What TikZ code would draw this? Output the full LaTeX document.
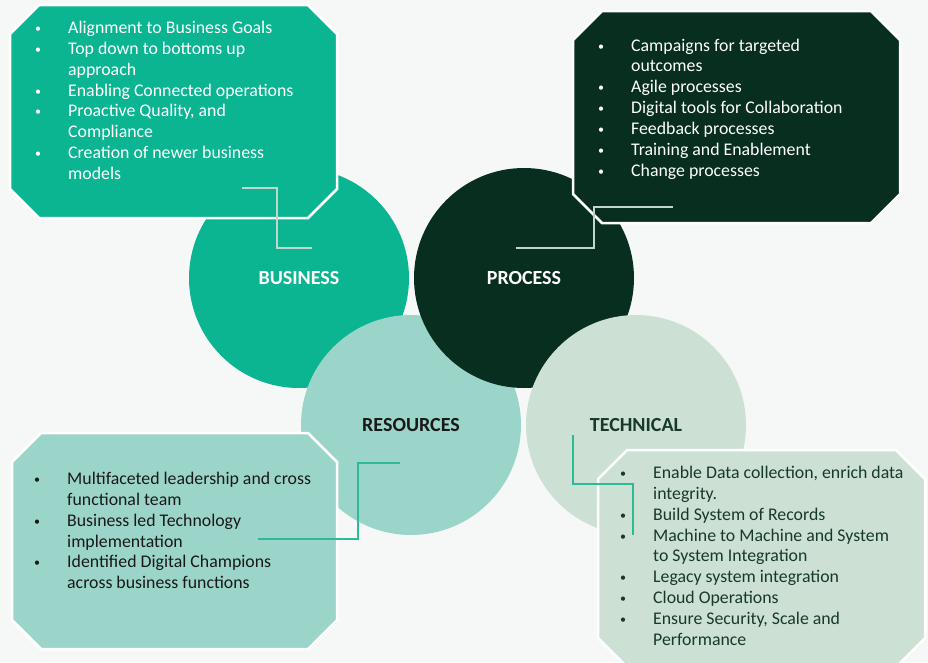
\documentclass[tikz,border=0pt]{standalone}
\usepackage{fontspec}
\setmainfont{Carlito}

\definecolor{bggray}{HTML}{F6F8F7}
\definecolor{bizgreen}{HTML}{0BB592}
\definecolor{procgreen}{HTML}{072E1F}
\definecolor{resgreen}{HTML}{9BD5C9}
\definecolor{techgreen}{HTML}{CCE0D4}
\definecolor{paleline}{HTML}{C3D6CE}
\definecolor{tealline}{HTML}{2DBA96}
\definecolor{techtext}{HTML}{17392B}

% small bullet hanging to the left of the line
\newcommand{\bul}{\llap{\raisebox{1pt}{\fontsize{12}{12}\selectfont\textbullet}\hspace{27pt}}}
% octagon round a card node, #1 = node, #2 = corner cut
\newcommand{\cardpath}[2]{([xshift=#2]#1.north west) -- ([xshift=-#2]#1.north east)
  -- ([yshift=-#2]#1.north east) -- ([yshift=#2]#1.south east)
  -- ([xshift=-#2]#1.south east) -- ([xshift=#2]#1.south west)
  -- ([yshift=#2]#1.south west) -- ([yshift=-#2]#1.north west) -- cycle}

\begin{document}
\begin{tikzpicture}[x=1pt,y=-1pt,
  circ/.style={circle, minimum size=220pt, inner sep=0pt, font=\fontsize{20}{24}\selectfont\bfseries},
  card/.style={rectangle, inner sep=0pt, outer sep=0pt},
  cardline/.style={draw=white, line width=2.5pt},
  items/.style={anchor=north west, inner sep=0pt, align=left, font=\fontsize{17.8}{20.85}\selectfont},
  link/.style={line width=1.2pt}]
\fill[bggray] (0,0) rectangle (928,662);
\useasboundingbox (0,0) rectangle (928,662);

% the four circles
\node[circ, fill=bizgreen, text=white] (business) at (299,278) {BUSINESS};
\node[circ, fill=resgreen, text=black!90] (resources) at (411,425) {RESOURCES};
\node[circ, fill=procgreen, text=white] (process) at (524,278) {PROCESS};
\node[circ, fill=techgreen, text=techtext] (technical) at (636,425) {TECHNICAL};

% cards
\node[card, minimum width=327pt, minimum height=213pt] (bizcard) at (173.5,111.5) {};
\node[card, minimum width=327pt, minimum height=212pt] (proccard) at (736.5,117) {};
\node[card, minimum width=325pt, minimum height=216pt] (rescard) at (174.5,541) {};
\node[card, minimum width=327pt, minimum height=217pt] (techcard) at (761.5,558.5) {};
\filldraw[cardline, fill=bizgreen] \cardpath{bizcard}{29pt};
\filldraw[cardline, fill=procgreen] \cardpath{proccard}{29pt};
\filldraw[cardline, fill=resgreen] \cardpath{rescard}{29pt};
\filldraw[cardline, fill=techgreen] \cardpath{techcard}{29pt};

% card texts
\node[items, text=white] (biztext) at (68,21) {%
\bul Alignment to Business Goals\\
\bul Top down to bottoms up\\
approach\\
\bul Enabling Connected operations\\
\bul Proactive Quality, and\\
Compliance\\
\bul Creation of newer business\\
models};
\node[items, text=white] (proctext) at (631,38.5) {%
\bul Campaigns for targeted\\
outcomes\\
\bul Agile processes\\
\bul Digital tools for Collaboration\\
\bul Feedback processes\\
\bul Training and Enablement\\
\bul Change processes};
\node[items, text=black!90] (restext) at (67,472) {%
\bul Multifaceted leadership and cross\\
functional team\\
\bul Business led Technology\\
implementation\\
\bul Identified Digital Champions\\
across business functions};
\node[items, text=techtext] (techtext) at (653,466) {%
\bul Enable Data collection, enrich data\\
integrity.\\
\bul Build System of Records\\
\bul Machine to Machine and System\\
to System Integration\\
\bul Legacy system integration\\
\bul Cloud Operations\\
\bul Ensure Security, Scale and\\
Performance};

% connector ends
\coordinate (bizA) at (242,188);
\coordinate (bizB) at (312,248);
\coordinate (procA) at (673,207);
\coordinate (procB) at (516,248);
\coordinate (resA) at (258,539);
\coordinate (resB) at (400,463);
\coordinate (techA) at (573,435);
\coordinate (techB) at (633,535);

\draw[link, paleline] (bizA) -- ++(35,0) |- (bizB);
\draw[link, paleline] (procA) -- ++(-79,0) |- (procB);
\draw[link, tealline] (resA) -- ++(100,0) |- (resB);
\draw[link, tealline] (techA) -- ++(0,49) -| (techB);
\end{tikzpicture}
\end{document}
